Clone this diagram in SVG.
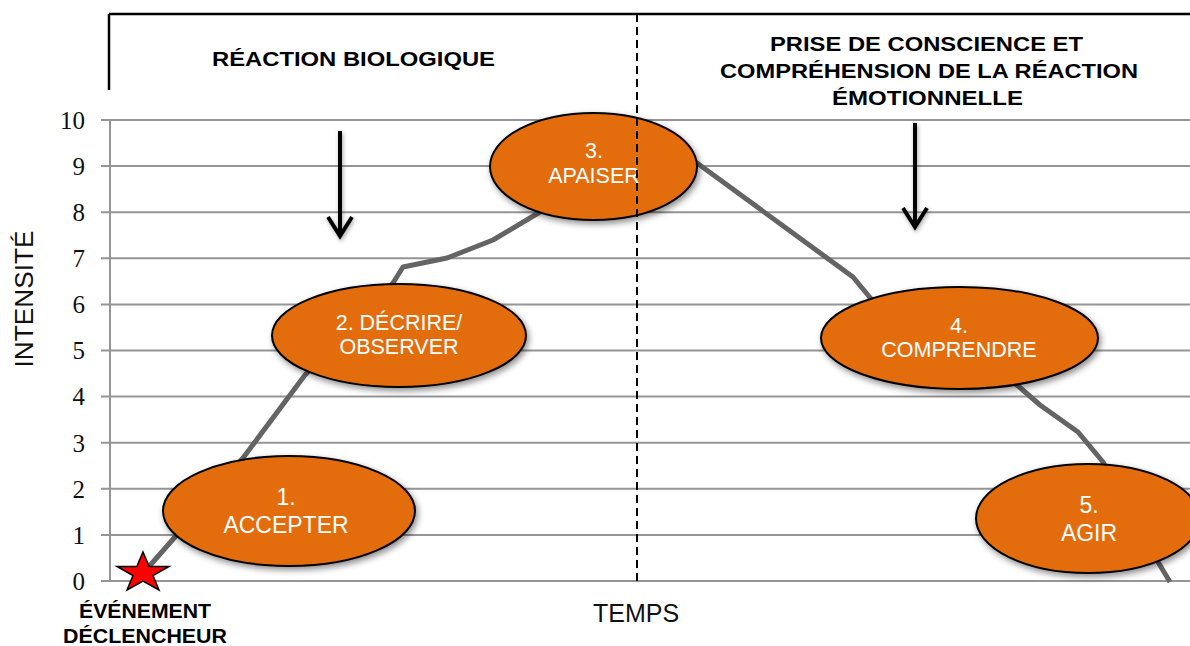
<svg xmlns="http://www.w3.org/2000/svg" width="1190" height="646" viewBox="0 0 1190 646">
<style>
.grid{stroke:#959595;stroke-width:2;fill:none}
.ylab{font-family:"Liberation Serif","DejaVu Serif",serif;font-size:25px;fill:#111;text-anchor:end}
.hdr{font-family:"Liberation Sans",Arial,sans-serif;font-weight:bold;font-size:21px;fill:#000;text-anchor:middle}
.axt{font-family:"Liberation Sans",Arial,sans-serif;font-size:25px;fill:#111;text-anchor:middle}
.ell{fill:#E36C0A;stroke:#000;stroke-width:2;filter:url(#sh)}
.lbl{font-family:"Liberation Sans",Arial,sans-serif;fill:#fff;text-anchor:middle}
.curve{fill:none;stroke:#646464;stroke-width:5;stroke-linejoin:round}
.arrow{fill:none;stroke:#000;stroke-width:4;filter:url(#sh2)}
</style>
<defs>
<filter id="sh" x="-20%" y="-20%" width="140%" height="150%">
<feDropShadow dx="2" dy="3" stdDeviation="3" flood-color="#000" flood-opacity="0.45"/>
</filter>
<filter id="sh2" x="-50%" y="-10%" width="200%" height="130%">
<feDropShadow dx="1" dy="2" stdDeviation="2" flood-color="#000" flood-opacity="0.35"/>
</filter>
</defs>
<rect width="1190" height="646" fill="#fff"/>

<g id="chart">
<path class="grid" d="M101,120H1190 M101,166.1H1190 M101,212.2H1190 M101,258.3H1190 M101,304.4H1190 M101,350.5H1190 M101,396.6H1190 M101,442.7H1190 M101,488.8H1190 M101,534.9H1190 M101,581H1190 M110,120V581"/>
<text class="ylab" x="85" y="129">10</text>
<text class="ylab" x="85" y="175">9</text>
<text class="ylab" x="85" y="221">8</text>
<text class="ylab" x="85" y="267">7</text>
<text class="ylab" x="85" y="313">6</text>
<text class="ylab" x="85" y="359">5</text>
<text class="ylab" x="85" y="405">4</text>
<text class="ylab" x="85" y="452">3</text>
<text class="ylab" x="85" y="498">2</text>
<text class="ylab" x="85" y="544">1</text>
<text class="ylab" x="85" y="590">0</text>
<text class="axt" transform="translate(33,299) rotate(-90)" x="0" y="0" textLength="137" lengthAdjust="spacingAndGlyphs">INTENSITÉ</text>
<text class="axt" x="636" y="622">TEMPS</text>
</g>

<g id="headers">
<path d="M109,14H1190 M109,14V90" stroke="#000" stroke-width="2.5" fill="none"/>
<text class="hdr" x="353.5" y="66" textLength="283" lengthAdjust="spacingAndGlyphs">RÉACTION BIOLOGIQUE</text>
<text class="hdr" x="926.5" y="51" textLength="313" lengthAdjust="spacingAndGlyphs">PRISE DE CONSCIENCE ET</text>
<text class="hdr" x="929" y="78" textLength="418" lengthAdjust="spacingAndGlyphs">COMPRÉHENSION DE LA RÉACTION</text>
<text class="hdr" x="927.5" y="105" textLength="191" lengthAdjust="spacingAndGlyphs">ÉMOTIONNELLE</text>
</g>

<g id="connectors">
<polyline class="curve" points="146,570 175,537 209,497 243,458 305,375 349,329 393,283 403,267 447,258 493,240 540,212 585,185 640,150 697,163 853,277 872,300 944,342 1017,385 1040,405 1078,432 1103,462 1130,512 1158,562 1170,582"/>
<path class="arrow" d="M340,131V235 M328,217L340,236L352,217"/>
<path class="arrow" d="M915,123V226 M903,208L915,227L927,208"/>
</g>

<g id="event">
<polygon points="143,552 149.2,566.5 169,566.5 153,575.5 159,590 143,581 127,590 133,575.5 117,566.5 136.8,566.5" fill="#FF0000" stroke="#000" stroke-width="1.5" stroke-linejoin="miter"/>
<text class="hdr" x="145" y="618" font-size="19" textLength="132" lengthAdjust="spacingAndGlyphs">ÉVÉNEMENT</text>
<text class="hdr" x="145" y="643" font-size="19" textLength="164" lengthAdjust="spacingAndGlyphs">DÉCLENCHEUR</text>
</g>

<g id="node1">
<ellipse class="ell" cx="289" cy="511" rx="126" ry="55"/>
<text class="lbl" x="286" y="505" font-size="23">1.</text>
<text class="lbl" x="286" y="533" font-size="23">ACCEPTER</text>
</g>
<g id="node2">
<ellipse class="ell" cx="399" cy="335.5" rx="127" ry="51.5"/>
<text class="lbl" x="399" y="330" font-size="21.5">2. DÉCRIRE/</text>
<text class="lbl" x="399" y="354" font-size="21.5">OBSERVER</text>
</g>
<g id="node3">
<ellipse class="ell" cx="593.5" cy="166.5" rx="103.5" ry="53.5"/>
<text class="lbl" x="594" y="158" font-size="21.5">3.</text>
<text class="lbl" x="594" y="183" font-size="21.5">APAISER</text>
</g>
<g id="node4">
<ellipse class="ell" cx="959.5" cy="338" rx="138.5" ry="51"/>
<text class="lbl" x="959" y="333" font-size="21.5">4.</text>
<text class="lbl" x="959" y="357" font-size="21.5">COMPRENDRE</text>
</g>
<g id="node5">
<ellipse class="ell" cx="1088" cy="518.5" rx="112" ry="54.5"/>
<text class="lbl" x="1089" y="513" font-size="23">5.</text>
<text class="lbl" x="1089" y="541" font-size="23">AGIR</text>
</g>

<g id="divider">
<path d="M637,14V581" stroke="#000" stroke-width="2" stroke-dasharray="8,5" fill="none"/>
</g>
</svg>
